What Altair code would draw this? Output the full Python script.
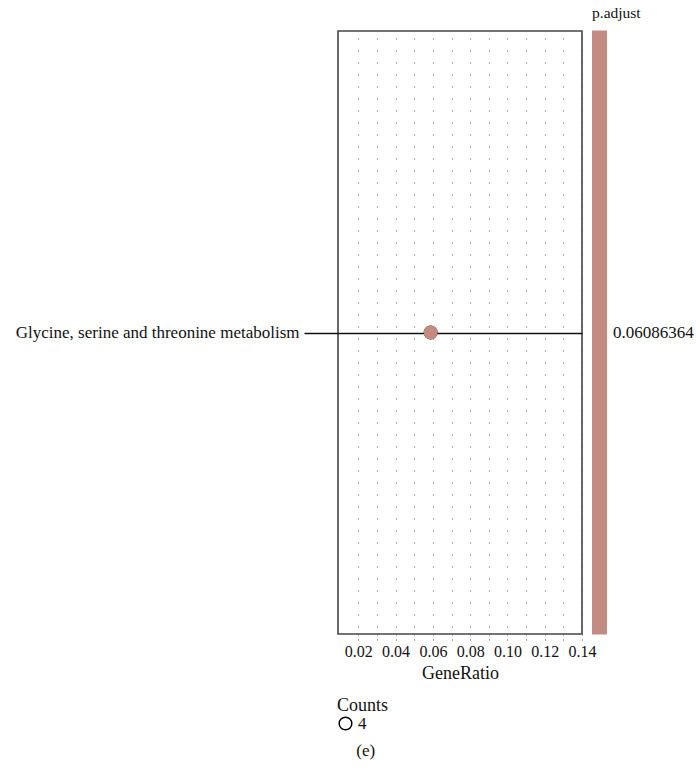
import altair as alt
import pandas as pd

# Enrichment result: one KEGG pathway
pathways = ["Glycine, serine and threonine metabolism"]
gene_ratio = [0.0588]
p_adjust = [0.06086364]
counts = [4]

# x-axis ticks every 0.01, labels every 0.02
x_ticks = [0.02, 0.03, 0.04, 0.05, 0.06, 0.07, 0.08, 0.09, 0.10, 0.11, 0.12, 0.13, 0.14]

df = pd.DataFrame({
    "Description": pathways,
    "GeneRatio": gene_ratio,
    "padj": p_adjust,
    "Count": counts,
})

FONT = "Liberation Serif"
DOT = "#c48b82"
INK = "#111"
# a single p-value: centre it in a narrow colour domain so the bar is uniform
P_HALF = 0.001
p_domain = [p_adjust[0] - P_HALF, p_adjust[0] + P_HALF]

x_enc = alt.X(
    "GeneRatio:Q",
    scale=alt.Scale(domain=[0.0091, 0.14], nice=False, zero=False),
    axis=alt.Axis(
        values=x_ticks,
        format=".2f",
        labelExpr="round(datum.value * 100) % 2 == 0 ? datum.label : ''",
        labelOverlap=False,
        labelFlush=False,
        labelFontSize=16,
        title="GeneRatio",
        titleFontSize=18,
        grid=True,
        gridDash=[1, 11],
        gridDashOffset=5,
        gridColor="#555",
        gridWidth=1,
        tickSize=6,
        tickDash=[1, 4],
        tickColor="#555",
        domain=False,
        labelPadding=3,
        titlePadding=5,
    ),
)
y_enc = alt.Y(
    "Description:N",
    axis=alt.Axis(
        title=None,
        grid=True,
        gridColor=INK,
        gridWidth=1.3,
        tickSize=34,
        tickColor=INK,
        tickWidth=1.3,
        domain=False,
        labelPadding=5,
        labelLimit=400,
    ),
)

base = alt.Chart(df)

# open ring carrying the Counts legend (hidden under the filled dot)
ring = base.mark_point(filled=False, color="black", strokeWidth=1.3, opacity=1).encode(
    x=x_enc,
    y=y_enc,
    size=alt.Size(
        "Count:Q",
        scale=alt.Scale(range=[160, 160], zero=False),
        legend=alt.Legend(
            title="Counts",
            titleFontSize=18,
            orient="none",
            legendX=-1,
            legendY=666,
            symbolType="circle",
            format="d",
            titlePadding=0,
        ),
    ),
)

# filled dot coloured by adjusted p-value
dot = base.mark_circle(opacity=1, size=194).encode(
    x=x_enc,
    y=y_enc,
    color=alt.Color(
        "padj:Q",
        scale=alt.Scale(domain=p_domain, range=[DOT, DOT], zero=False, nice=False),
        legend=alt.Legend(
            type="gradient",
            title="p.adjust",
            titleFontSize=15.5,
            orient="none",
            legendX=254,
            legendY=-25,
            direction="vertical",
            gradientLength=604,
            gradientThickness=15,
            gradientStrokeWidth=0,
            values=p_adjust,
            format=".8f",
            labelOffset=6,
            titlePadding=9,
        ),
    ),
)

chart = alt.layer(ring, dot).properties(
    width=244,
    height=603,
    background="white",
    title=alt.Title("(e)", orient="bottom", anchor="start", dx=341, offset=10,
                    font=FONT, fontSize=17, fontWeight="normal", color=INK),
    padding={"left": 338, "top": 31, "right": 114, "bottom": 142},
    autosize=alt.AutoSizeParams(type="none"),
).configure_view(
    stroke="#444",
    strokeWidth=1.6,
).configure_axis(
    labelFont=FONT,
    titleFont=FONT,
    labelFontSize=17,
    titleFontSize=17,
    titleFontWeight="normal",
    labelColor=INK,
    titleColor=INK,
).configure_legend(
    labelFont=FONT,
    titleFont=FONT,
    labelFontSize=17,
    titleFontSize=17,
    titleFontWeight="normal",
    labelColor=INK,
    titleColor=INK,
)

chart.save("out.html", embed_options={"renderer": "svg", "actions": False})
